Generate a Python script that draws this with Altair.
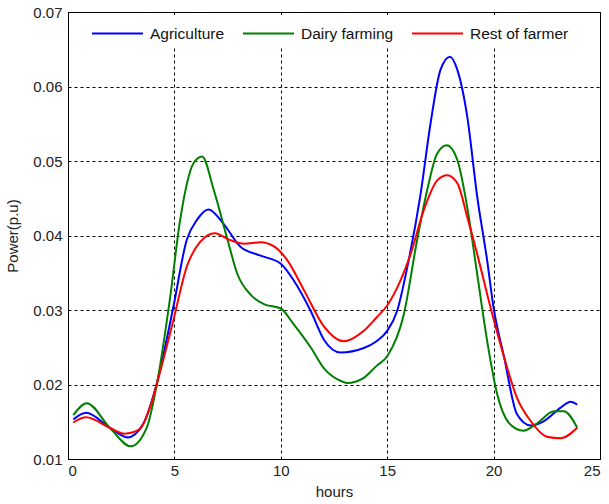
import altair as alt
import pandas as pd

series_names = ["Agriculture", "Dairy farming", "Rest of farmer"]
series_colors = ["#0000FF", "#008000", "#FF0000"]

agri_hours = [0.25, 0.85, 1.96, 2.8, 3.53, 4.16, 4.95, 5.58, 6.06, 6.6, 7.3, 8.1, 9.05, 10.0, 10.6, 11.4, 12.05, 12.8, 13.9, 14.5, 15.0, 15.47, 15.94, 16.57, 17.04, 17.5, 17.95, 18.3, 18.76, 19.23, 19.7, 20.0, 20.5, 21.1, 21.74, 22.37, 23.15, 23.62, 23.93]
agri_power = [0.0153, 0.0162, 0.0142, 0.0129, 0.0147, 0.0200, 0.0304, 0.0394, 0.0421, 0.0435, 0.0416, 0.0385, 0.0373, 0.0362, 0.0340, 0.0299, 0.0259, 0.0243, 0.0249, 0.0258, 0.0272, 0.0299, 0.0357, 0.0456, 0.0551, 0.0622, 0.0640, 0.0622, 0.0560, 0.0452, 0.0366, 0.0303, 0.0236, 0.0160, 0.0145, 0.0151, 0.0169, 0.0177, 0.0173]

dairy_hours = [0.25, 0.88, 1.96, 2.95, 3.7, 4.16, 4.8, 5.27, 5.9, 6.3, 6.85, 7.5, 7.95, 8.6, 9.2, 10.0, 10.6, 11.4, 12.05, 12.8, 13.12, 13.9, 14.5, 15.0, 15.78, 16.4, 16.88, 17.35, 17.8, 18.3, 18.76, 19.23, 19.7, 20.17, 20.8, 21.4, 22.05, 22.84, 23.3, 23.93]
dairy_power = [0.0159, 0.0175, 0.0142, 0.0117, 0.0142, 0.0198, 0.0317, 0.0421, 0.0497, 0.0506, 0.0461, 0.0394, 0.0349, 0.0320, 0.0308, 0.0302, 0.0281, 0.0250, 0.0221, 0.0205, 0.0202, 0.0209, 0.0225, 0.0238, 0.0294, 0.0393, 0.0461, 0.0510, 0.0521, 0.0501, 0.0438, 0.0348, 0.0258, 0.0187, 0.0146, 0.0138, 0.0148, 0.0164, 0.0164, 0.0142]

rest_hours = [0.25, 0.85, 1.96, 2.66, 3.37, 3.85, 4.3, 4.95, 5.58, 6.2, 6.9, 7.6, 8.27, 9.05, 9.7, 10.3, 11.1, 12.05, 12.96, 13.9, 14.5, 15.0, 15.47, 16.1, 16.72, 17.35, 17.82, 18.3, 18.76, 19.23, 19.86, 20.5, 21.1, 21.74, 22.5, 23.15, 23.93]
rest_power = [0.0149, 0.0156, 0.0142, 0.0134, 0.0140, 0.0169, 0.0214, 0.0286, 0.0358, 0.0391, 0.0403, 0.0394, 0.0389, 0.0391, 0.0385, 0.0367, 0.0326, 0.0277, 0.0258, 0.0272, 0.0290, 0.0306, 0.0330, 0.0375, 0.0434, 0.0474, 0.0481, 0.0470, 0.0425, 0.0375, 0.0303, 0.0236, 0.0182, 0.0151, 0.0130, 0.0128, 0.0142]

x_ticks = [0, 5, 10, 15, 20, 25]
y_ticks = [0.01, 0.02, 0.03, 0.04, 0.05, 0.06, 0.07]

frames = []
for name, hs, ps in [(series_names[0], agri_hours, agri_power),
                     (series_names[1], dairy_hours, dairy_power),
                     (series_names[2], rest_hours, rest_power)]:
    frames.append(pd.DataFrame({"hours": hs, "power": ps, "series": name, "idx": range(len(hs))}))
df = pd.concat(frames, ignore_index=True)

FONT = "Liberation Sans"

x_enc = alt.X("hours:Q", title="hours",
              scale=alt.Scale(domain=[0, 25], nice=False, zero=False),
              axis=alt.Axis(values=x_ticks, format="d"))
y_enc = alt.Y("power:Q", title="Power(p.u)",
              scale=alt.Scale(domain=[0.01, 0.07], nice=False, zero=False),
              axis=alt.Axis(values=y_ticks, format=".2f"))

# white background box of the legend (hides the grid behind it)
legend_box = alt.Chart(df).mark_rect(color="white").encode(
    x=alt.value(4), x2=alt.value(526), y=alt.value(3), y2=alt.value(35)
)

lines = alt.Chart(df).mark_line(strokeWidth=2, interpolate="monotone", clip=True).encode(
    x=x_enc,
    y=y_enc,
    color=alt.Color("series:N",
                    scale=alt.Scale(domain=series_names, range=series_colors),
                    legend=alt.Legend(title=None, orient="none", legendX=23, legendY=-5,
                                      direction="horizontal", symbolType="stroke",
                                      symbolSize=2600, symbolStrokeWidth=2,
                                      labelFontSize=15.5, labelFont=FONT, labelColor="#111",
                                      labelOffset=6, columnPadding=14, labelLimit=300,
                                      padding=0)),
    order="idx:Q",
)

chart = alt.layer(legend_box, lines).properties(
    width=532, height=447,
    autosize=alt.AutoSizeParams(type="none"),
    padding={"left": 68, "top": 12, "right": 9, "bottom": 45},
).configure_view(
    stroke="black", strokeWidth=1
).configure_axis(
    grid=True, gridColor="black", gridDash=[3, 3], gridOpacity=1, gridWidth=1,
    domainColor="black", domainWidth=1, ticks=False,
    labelFont=FONT, labelFontSize=15, labelColor="#222",
    titleFont=FONT, titleFontSize=15, titleColor="#222", titleFontWeight="normal",
).configure_axisX(
    labelPadding=4, titlePadding=6
).configure_axisY(
    labelPadding=6, titlePadding=12
)

chart.save("out.html", embed_options={"renderer": "svg", "actions": False})
